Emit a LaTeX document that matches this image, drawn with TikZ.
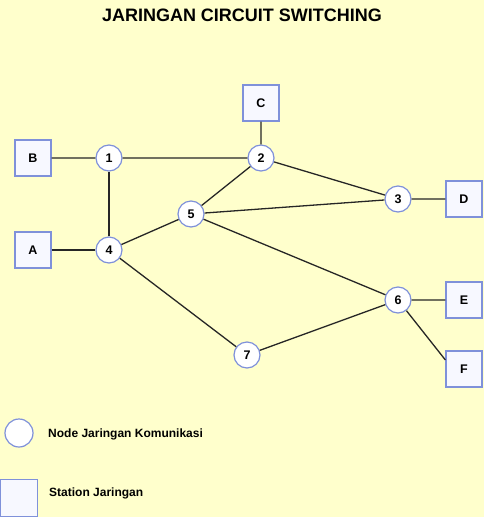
\documentclass[tikz,border=0pt]{standalone}
\usepackage{fontspec}
\setmainfont{Liberation Sans}
\definecolor{bgyellow}{HTML}{FFFFCC}
\definecolor{rimblue}{HTML}{7F91DA}
\definecolor{boxfill}{HTML}{F7F8FF}
\begin{document}
\begin{tikzpicture}[
  x=1pt, y=-1pt,
  nd/.style={circle, draw=rimblue, fill=white, line width=1.2pt, minimum size=26pt, inner sep=0pt, font=\fontsize{12.5}{14}\bfseries\selectfont},
  stn/.style={rectangle, draw=rimblue, fill=boxfill, line width=1.2pt, minimum size=36pt, inner sep=0pt, font=\fontsize{12.5}{14}\bfseries\selectfont},
  link/.style={draw=black!85, line width=1.3pt},
  legend/.style={anchor=west, inner sep=0pt, font=\fontsize{12}{14}\bfseries\selectfont}
]
\fill[bgyellow] (0,0) rectangle (484,517);
\useasboundingbox (0,0) rectangle (484,517);
\node[font=\fontsize{18}{20}\bfseries\selectfont] (title) at (242,15) {JARINGAN CIRCUIT SWITCHING};
% stations
\node[stn] (B) at (33,158) {B};
\node[stn] (A) at (33,250) {A};
\node[stn] (C) at (261,103) {C};
\node[stn] (D) at (464,199) {D};
\node[stn] (E) at (464,300) {E};
\node[stn] (F) at (464,369) {F};
% nodes
\node[nd] (n1) at (109,158) {1};
\node[nd] (n2) at (261,158) {2};
\node[nd] (n3) at (398,199) {3};
\node[nd] (n4) at (109,250) {4};
\node[nd] (n5) at (191,214) {5};
\node[nd] (n6) at (398,300) {6};
\node[nd] (n7) at (247,355) {7};
% links
\draw[link] (B) -- (n1) -- (n2) -- (n3) -- (D);
\draw[link] (A) -- (n4) -- (n1);
\draw[link] (C) -- (n2) -- (n5) -- (n3);
\draw[link] (n4) -- (n5) -- (n6) -- (E);
\draw[link] (n4) -- (n7) -- (n6);
\draw[link] (n6) -- ([yshift=9pt]F.west);
% legend
\node[nd, minimum size=28pt] (lnd) at (19,433) {};
\node[legend] (lndtxt) at (48,434) {Node Jaringan Komunikasi};
\node[stn, minimum size=37pt] (lstn) at (19,498) {};
\node[legend] (lstntxt) at (49,493) {Station Jaringan};
\end{tikzpicture}
\end{document}
